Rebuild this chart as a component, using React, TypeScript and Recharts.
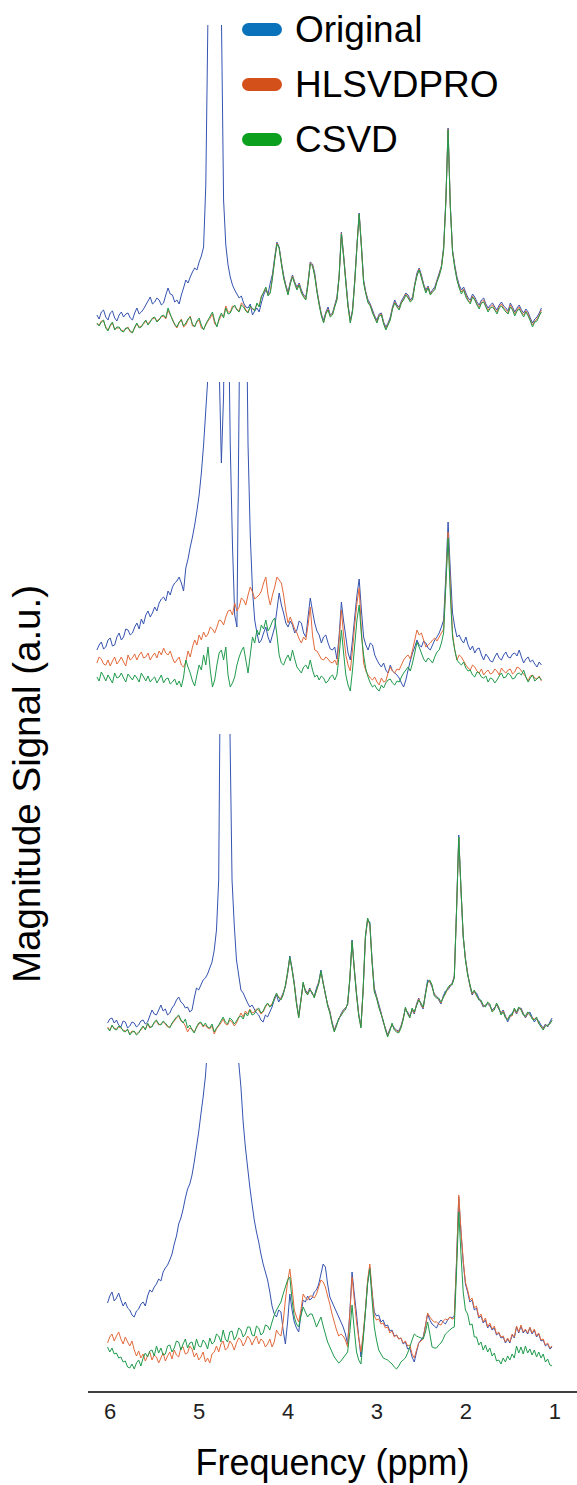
import { LineChart, Line, XAxis, YAxis, Legend } from "recharts";

const FONT = "Arial, 'Liberation Sans', sans-serif";

// sampling grid (ppm); panels 3-4 sit slightly to the right of panels 1-2
const PPM_START_A = 6.15;
const PPM_START_B = 6.03;
const PPM_STEP = 0.025;

const X_TICKS = [6, 5, 4, 3, 2, 1];

// panel 1
const p1Original = [
  25, 21, 28, 30, 23, 20, 27, 29, 22, 19, 25, 28, 23, 26, 27, 22, 20, 27, 32, 26,
  28, 31, 35, 39, 43, 36, 38, 42, 40, 35, 37, 45, 52, 46, 45, 38, 40, 36, 45, 52,
  60, 57, 63, 68, 72, 70, 78, 84, 93, 155, 330, 600, 900, 950, 700, 500, 330, 140, 95, 75,
  63, 55, 50, 46, 42, 44, 37, 33, 32, 36, 25, 29, 32, 28, 37, 45, 50, 46, 57, 66,
  83, 98, 93, 78, 65, 55, 48, 58, 65, 58, 53, 57, 50, 45, 43, 58, 78, 76, 67, 50,
  37, 26, 20, 28, 33, 25, 27, 35, 43, 65, 108, 85, 60, 35, 20, 30, 60, 95, 127, 95,
  60, 48, 40, 36, 30, 24, 20, 26, 27, 18, 13, 17, 23, 33, 40, 35, 33, 39, 43, 47,
  45, 40, 43, 56, 67, 72, 65, 56, 50, 54, 47, 50, 53, 60, 67, 74, 93, 140, 212, 135,
  90, 75, 63, 55, 50, 53, 47, 42, 40, 46, 43, 38, 35, 40, 42, 36, 32, 35, 37, 33,
  30, 35, 38, 34, 32, 29, 37, 33, 28, 32, 35, 30, 27, 31, 28, 22, 17, 21, 23, 27,
  32,
];
const p1Hlsvd = [
  16, 15, 19, 19, 13, 10, 14, 17, 11, 12, 12, 10, 9, 11, 13, 8, 8, 12, 16, 13,
  14, 16, 19, 16, 19, 21, 22, 19, 21, 23, 24, 21, 30, 25, 21, 15, 12, 17, 21, 13,
  15, 20, 24, 14, 14, 18, 20, 12, 11, 15, 19, 22, 26, 16, 14, 20, 25, 24, 34, 28,
  28, 34, 33, 31, 29, 37, 35, 30, 28, 33, 31, 30, 36, 34, 44, 47, 52, 45, 48, 63,
  81, 97, 92, 77, 63, 54, 46, 57, 64, 57, 51, 56, 48, 44, 41, 57, 77, 75, 65, 49,
  36, 25, 18, 27, 31, 24, 26, 34, 41, 64, 107, 84, 58, 34, 18, 29, 58, 94, 126, 94,
  58, 47, 38, 35, 28, 23, 18, 25, 26, 17, 11, 16, 21, 32, 38, 34, 31, 38, 41, 46,
  43, 39, 41, 55, 65, 71, 63, 55, 48, 53, 46, 49, 51, 59, 65, 73, 91, 139, 211, 134,
  89, 73, 61, 53, 48, 51, 45, 40, 38, 44, 41, 36, 33, 38, 40, 34, 30, 33, 35, 31,
  28, 33, 36, 32, 30, 27, 35, 31, 26, 30, 33, 28, 25, 29, 26, 20, 15, 19, 21, 25,
  30,
];
const p1Csvd = [
  17, 14, 18, 20, 12, 9, 15, 18, 10, 13, 13, 9, 8, 12, 12, 9, 7, 13, 17, 12,
  13, 17, 20, 15, 18, 22, 23, 18, 20, 24, 25, 22, 32, 26, 20, 16, 13, 18, 20, 14,
  17, 21, 23, 16, 13, 19, 22, 15, 10, 16, 20, 24, 28, 19, 13, 22, 27, 22, 32, 26,
  27, 32, 35, 30, 28, 35, 33, 29, 27, 34, 32, 29, 37, 33, 43, 48, 53, 44, 47, 62,
  80, 96, 92, 76, 62, 53, 45, 56, 63, 56, 50, 55, 47, 43, 40, 56, 76, 74, 64, 48,
  35, 24, 17, 26, 30, 23, 25, 33, 40, 63, 106, 83, 57, 33, 17, 28, 57, 93, 126, 93,
  57, 46, 37, 34, 27, 22, 17, 24, 25, 16, 10, 15, 20, 31, 37, 33, 30, 37, 40, 45,
  42, 38, 40, 54, 64, 70, 62, 54, 47, 52, 45, 48, 50, 58, 64, 72, 90, 138, 210, 133,
  88, 72, 60, 52, 46, 50, 43, 39, 36, 43, 40, 35, 31, 37, 38, 33, 28, 32, 33, 30,
  26, 32, 34, 31, 28, 26, 33, 30, 24, 29, 31, 27, 23, 28, 24, 19, 13, 18, 19, 24,
  28,
];

// panel 2
const p2Original = [
  45, 50, 53, 46, 48, 55, 57, 49, 50, 58, 62, 55, 58, 66, 65, 60, 62, 68, 72, 66,
  76, 71, 80, 84, 78, 82, 88, 84, 92, 96, 98, 94, 104, 100, 108, 112, 114, 118, 112, 104,
  127, 136, 148, 158, 170, 184, 200, 222, 250, 285, 320, 600, 700, 650, 500, 330, 232, 300, 520, 420,
  250, 150, 80, 68, 300, 600, 700, 450, 250, 160, 105, 75, 62, 52, 55, 62, 68, 58, 52, 60,
  68, 85, 102, 90, 82, 72, 68, 74, 70, 62, 65, 74, 72, 62, 58, 78, 97, 84, 72, 64,
  60, 52, 58, 60, 52, 46, 45, 48, 36, 60, 93, 74, 58, 42, 35, 55, 78, 100, 116, 85,
  58, 50, 45, 52, 50, 40, 35, 31, 28, 32, 25, 22, 30, 24, 22, 20, 17, 12, 8, 15,
  25, 34, 42, 48, 55, 50, 48, 54, 52, 47, 45, 50, 55, 58, 62, 68, 75, 120, 173, 125,
  82, 68, 58, 60, 55, 52, 58, 50, 45, 49, 42, 46, 47, 40, 35, 41, 38, 34, 33, 38,
  42, 37, 35, 40, 43, 38, 37, 41, 42, 39, 45, 38, 32, 36, 38, 33, 35, 31, 28, 33,
  30,
];
const p2Hlsvd = [
  32, 38, 36, 31, 30, 35, 29, 34, 38, 31, 34, 38, 33, 29, 40, 35, 37, 41, 35, 40,
  43, 37, 38, 42, 35, 39, 42, 37, 44, 40, 47, 42, 40, 44, 37, 32, 35, 38, 30, 28,
  33, 44, 38, 48, 55, 50, 60, 55, 63, 58, 61, 68, 66, 62, 68, 75, 74, 70, 78, 84,
  85, 80, 92, 84, 88, 97, 95, 90, 100, 108, 103, 96, 98, 100, 104, 112, 118, 100, 90, 100,
  108, 118, 115, 112, 100, 84, 72, 78, 72, 66, 62, 56, 52, 58, 55, 70, 88, 60, 45, 44,
  40, 36, 35, 38, 36, 33, 32, 35, 30, 55, 85, 60, 40, 30, 24, 45, 70, 92, 107, 65,
  32, 24, 20, 17, 15, 18, 13, 10, 17, 13, 14, 22, 28, 24, 22, 26, 25, 30, 35, 38,
  40, 36, 45, 55, 65, 60, 62, 55, 48, 50, 52, 55, 57, 54, 58, 62, 66, 112, 163, 110,
  62, 45, 35, 40, 38, 34, 30, 27, 25, 30, 28, 24, 22, 26, 20, 23, 25, 21, 22, 26,
  24, 20, 27, 24, 22, 25, 26, 21, 23, 28, 27, 24, 21, 18, 14, 19, 20, 17, 16, 19,
  14,
];
const p2Csvd = [
  18, 14, 23, 19, 14, 20, 16, 12, 22, 17, 18, 22, 17, 13, 21, 18, 15, 20, 17, 13,
  22, 18, 14, 19, 13, 16, 18, 12, 16, 20, 12, 16, 17, 11, 13, 16, 10, 14, 8, 18,
  35, 28, 22, 14, 9, 20, 30, 25, 40, 30, 48, 25, 8, 15, 30, 42, 45, 35, 48, 20,
  8, 12, 18, 30, 38, 44, 48, 35, 22, 40, 58, 52, 65, 60, 70, 66, 75, 64, 68, 74,
  77, 60, 40, 32, 30, 36, 40, 34, 45, 36, 28, 25, 22, 28, 30, 26, 35, 25, 18, 20,
  15, 19, 17, 12, 14, 18, 20, 15, 20, 40, 65, 42, 20, 10, 4, 25, 50, 75, 90, 60,
  40, 26, 18, 12, 8, 10, 6, 4, 10, 7, 12, 15, 16, 12, 10, 14, 13, 18, 22, 25,
  28, 24, 32, 42, 53, 48, 42, 36, 33, 37, 35, 32, 38, 43, 45, 52, 62, 110, 157, 100,
  58, 45, 35, 32, 30, 33, 27, 24, 25, 20, 18, 23, 22, 18, 17, 19, 13, 17, 16, 12,
  15, 19, 22, 17, 18, 22, 20, 16, 17, 21, 22, 20, 25, 18, 13, 17, 20, 14, 16, 18,
  15,
];

// panel 3
const p3Original = [
  17, 21, 22, 17, 20, 15, 13, 19, 18, 12, 14, 18, 17, 13, 15, 19, 20, 16, 18, 24,
  30, 26, 25, 30, 35, 29, 31, 25, 27, 32, 35, 40, 43, 38, 36, 32, 33, 28, 30, 42,
  52, 50, 55, 60, 62, 66, 72, 78, 90, 110, 160, 450, 800, 900, 700, 320, 160, 115, 80, 65,
  50, 47, 42, 37, 33, 35, 31, 27, 25, 20, 18, 25, 23, 28, 33, 40, 45, 38, 42, 47,
  53, 66, 84, 72, 57, 38, 24, 40, 56, 50, 47, 52, 46, 44, 52, 58, 70, 58, 45, 36,
  29, 18, 10, 16, 20, 26, 30, 32, 35, 60, 100, 72, 47, 26, 14, 50, 102, 120, 118, 80,
  52, 44, 36, 28, 18, 12, 5, 11, 15, 12, 10, 9, 14, 22, 31, 28, 24, 30, 26, 36,
  42, 35, 31, 47, 60, 58, 53, 46, 44, 40, 36, 44, 49, 50, 53, 57, 64, 130, 205, 150,
  103, 82, 67, 54, 45, 48, 47, 42, 38, 33, 35, 36, 34, 30, 32, 35, 31, 27, 30, 24,
  18, 23, 27, 30, 26, 31, 32, 27, 22, 26, 28, 23, 18, 21, 19, 15, 12, 16, 13, 18,
  22,
];
const p3Hlsvd = [
  13, 10, 14, 12, 11, 13, 12, 10, 9, 10, 6, 9, 8, 6, 8, 10, 13, 11, 16, 12,
  14, 17, 19, 15, 16, 18, 16, 13, 13, 16, 19, 22, 24, 19, 18, 14, 8, 12, 11, 8,
  12, 16, 17, 13, 15, 12, 11, 14, 6, 11, 14, 17, 21, 16, 15, 20, 18, 14, 17, 22,
  27, 23, 29, 26, 31, 27, 28, 31, 30, 26, 28, 33, 36, 34, 36, 41, 46, 43, 41, 46,
  54, 67, 82, 71, 56, 37, 23, 39, 57, 49, 46, 51, 47, 43, 49, 57, 68, 57, 46, 35,
  28, 17, 9, 15, 21, 25, 29, 31, 36, 61, 98, 71, 46, 25, 13, 51, 103, 121, 115, 79,
  49, 43, 34, 27, 19, 11, 4, 10, 16, 11, 9, 8, 13, 21, 32, 27, 23, 31, 27, 35,
  41, 36, 32, 46, 57, 59, 54, 45, 43, 41, 37, 43, 46, 51, 54, 56, 63, 129, 202, 151,
  104, 81, 66, 55, 46, 49, 44, 41, 39, 34, 34, 37, 35, 29, 31, 36, 32, 26, 29, 23,
  21, 24, 24, 31, 27, 32, 31, 26, 23, 27, 25, 22, 21, 22, 16, 14, 11, 15, 14, 17,
  19,
];
const p3Csvd = [
  12, 9, 15, 11, 10, 14, 13, 9, 8, 11, 5, 8, 9, 5, 7, 11, 14, 10, 17, 13,
  13, 18, 20, 16, 15, 19, 17, 14, 12, 17, 20, 23, 25, 20, 17, 21, 12, 15, 10, 7,
  13, 17, 18, 14, 17, 13, 12, 16, 8, 12, 15, 19, 23, 18, 16, 22, 20, 16, 19, 23,
  24, 21, 27, 24, 30, 25, 26, 30, 32, 27, 29, 34, 37, 33, 35, 42, 47, 42, 40, 45,
  55, 68, 83, 70, 55, 36, 22, 40, 58, 48, 45, 50, 48, 42, 50, 56, 69, 56, 47, 34,
  27, 16, 8, 14, 22, 24, 28, 30, 37, 62, 99, 70, 45, 24, 12, 52, 104, 122, 116, 78,
  48, 42, 33, 26, 20, 10, 3, 9, 17, 10, 8, 7, 12, 20, 33, 26, 22, 32, 28, 34,
  40, 37, 33, 45, 58, 60, 55, 44, 42, 42, 38, 42, 47, 52, 55, 55, 62, 128, 203, 152,
  105, 80, 65, 56, 47, 50, 45, 40, 40, 35, 33, 38, 36, 28, 30, 37, 33, 25, 28, 22,
  20, 25, 25, 32, 28, 33, 30, 25, 24, 28, 26, 21, 20, 23, 17, 13, 10, 14, 15, 16,
  20,
];

// panel 4
const p4Original = [
  69, 76, 80, 71, 74, 79, 72, 66, 70, 64, 62, 57, 55, 61, 63, 68, 70, 66, 76, 82,
  80, 85, 88, 93, 91, 100, 104, 107, 112, 118, 128, 136, 148, 154, 163, 174, 183, 188, 197, 210,
  225, 240, 258, 275, 295, 325, 360, 400, 440, 480, 520, 545, 560, 545, 520, 480, 430, 385, 340, 310,
  285, 250, 225, 205, 185, 168, 152, 140, 130, 118, 108, 100, 92, 80, 66, 58, 55, 62, 60, 42,
  28, 50, 78, 62, 50, 44, 40, 58, 72, 70, 76, 72, 74, 80, 82, 88, 98, 108, 105, 88,
  75, 70, 65, 60, 55, 50, 45, 38, 28, 60, 100, 78, 58, 35, 15, 35, 60, 90, 105, 80,
  60, 56, 57, 50, 52, 46, 47, 41, 42, 36, 37, 33, 34, 28, 30, 23, 24, 15, 10, 20,
  29, 32, 35, 46, 58, 52, 48, 46, 44, 49, 52, 50, 48, 52, 55, 54, 56, 110, 175, 140,
  110, 88, 80, 70, 72, 62, 64, 54, 56, 49, 52, 44, 47, 42, 44, 37, 39, 34, 35, 29,
  33, 29, 37, 34, 45, 39, 46, 39, 42, 38, 44, 38, 42, 35, 38, 31, 32, 26, 28, 23,
  25,
];
const p4Hlsvd = [
  29, 35, 38, 31, 36, 40, 33, 28, 35, 30, 26, 31, 22, 16, 21, 14, 18, 11, 16, 20,
  12, 17, 15, 9, 14, 19, 11, 16, 20, 13, 22, 17, 15, 24, 25, 18, 19, 26, 23, 15,
  19, 12, 15, 20, 10, 14, 9, 18, 20, 26, 20, 28, 31, 22, 24, 31, 28, 22, 29, 34,
  32, 26, 30, 36, 33, 27, 32, 36, 28, 33, 31, 25, 28, 33, 25, 30, 42, 38, 36, 50,
  72, 90, 103, 85, 62, 55, 50, 62, 78, 74, 72, 76, 76, 74, 78, 85, 92, 90, 85, 76,
  68, 58, 50, 42, 36, 38, 36, 32, 25, 58, 95, 72, 50, 34, 20, 38, 62, 92, 108, 80,
  56, 52, 53, 48, 49, 44, 45, 39, 41, 35, 37, 33, 34, 29, 31, 26, 27, 18, 14, 22,
  29, 31, 33, 46, 59, 55, 52, 50, 50, 48, 47, 51, 53, 52, 55, 53, 54, 110, 177, 142,
  112, 90, 82, 72, 74, 64, 66, 55, 58, 50, 54, 45, 49, 43, 46, 38, 40, 35, 36, 30,
  34, 30, 38, 35, 46, 40, 47, 40, 43, 39, 45, 39, 43, 36, 39, 32, 33, 27, 29, 24,
  26,
];
const p4Csvd = [
  25, 20, 24, 18, 19, 14, 15, 10, 11, 5, 4, 8, 3, 9, 12, 6, 14, 19, 15, 21,
  22, 16, 26, 19, 24, 17, 18, 26, 27, 20, 24, 31, 30, 22, 28, 33, 24, 29, 30, 22,
  33, 26, 25, 32, 29, 23, 34, 28, 30, 38, 36, 30, 42, 33, 30, 40, 41, 32, 36, 44,
  42, 35, 38, 45, 45, 37, 36, 46, 44, 37, 39, 47, 46, 42, 50, 57, 62, 66, 70, 78,
  85, 92, 95, 72, 55, 48, 45, 56, 65, 60, 55, 58, 58, 52, 45, 50, 55, 46, 38, 30,
  25, 20, 15, 12, 9, 11, 14, 17, 20, 40, 67, 42, 20, 12, 8, 32, 60, 88, 103, 72,
  45, 32, 22, 18, 14, 13, 12, 10, 8, 5, 3, 6, 10, 12, 14, 19, 25, 32, 38, 36,
  35, 34, 33, 40, 50, 38, 25, 24, 24, 27, 29, 33, 38, 40, 42, 44, 45, 100, 160, 118,
  80, 62, 58, 47, 48, 35, 35, 27, 30, 22, 27, 20, 24, 16, 19, 11, 12, 8, 14, 10,
  16, 12, 18, 14, 26, 19, 25, 18, 26, 19, 23, 17, 22, 15, 20, 14, 18, 10, 13, 7,
  6,
];

const SERIES = [
  { key: "orig", name: "Original", stroke: "#3553b0", swatch: "#0a72ba" },
  { key: "hlsvd", name: "HLSVDPRO", stroke: "#e36a3b", swatch: "#d4501a" },
  { key: "csvd", name: "CSVD", stroke: "#1f9b4c", swatch: "#0ca01f" },
];

function buildRows(start: number, orig: number[], hlsvd: number[], csvd: number[]) {
  return orig.map((v, i) => ({
    ppm: +(start - i * PPM_STEP).toFixed(3),
    orig: v,
    hlsvd: hlsvd[i],
    csvd: csvd[i],
  }));
}

const PANELS = [
  { rows: buildRows(PPM_START_A, p1Original, p1Hlsvd, p1Csvd), top: 25, plot: 315, yMin: 0, yMax: 315 },
  { rows: buildRows(PPM_START_A, p2Original, p2Hlsvd, p2Csvd), top: 382, plot: 313, yMin: 0, yMax: 313 },
  { rows: buildRows(PPM_START_B, p3Original, p3Hlsvd, p3Csvd), top: 734, plot: 306, yMin: 0, yMax: 306 },
  { rows: buildRows(PPM_START_B, p4Original, p4Hlsvd, p4Csvd), top: 1063, plot: 329, yMin: -20, yMax: 309 },
];

const renderLegend = (props: any) => {
  const items = [...(props.payload || [])].sort(
    (a: any, b: any) =>
      SERIES.findIndex((s) => s.name === a.value) - SERIES.findIndex((s) => s.name === b.value)
  );
  return (
    <div style={{ fontFamily: FONT, fontSize: 37, color: "#000" }}>
      {items.map((entry: any) => {
        const s = SERIES.find((x) => x.name === entry.value);
        return (
          <div key={entry.value} style={{ display: "flex", alignItems: "center", height: 55, lineHeight: "55px" }}>
            <span
              style={{
                display: "inline-block",
                width: 40,
                height: 13,
                borderRadius: 7,
                background: s ? s.swatch : entry.color,
                marginRight: 13,
              }}
            />
            <span>{entry.value}</span>
          </div>
        );
      })}
    </div>
  );
};

function Panel({ index }: { index: number }) {
  const p = PANELS[index];
  const first = index === 0;
  const last = index === PANELS.length - 1;
  const marginTop = first ? p.top : 0;
  const axisHeight = last ? 93 : 0;

  return (
    <div style={{ position: "absolute", left: 0, top: p.top - marginTop, width: 577 }}>
      <LineChart
        width={577}
        height={p.plot + marginTop + axisHeight}
        data={p.rows}
        margin={{ top: marginTop, right: 0, bottom: 0, left: 88 }}
        style={{ fontFamily: FONT }}
      >
        <XAxis
          dataKey="ppm"
          type="number"
          domain={[0.75, 6.25]}
          reversed
          allowDataOverflow
          hide={!last}
          ticks={X_TICKS}
          height={axisHeight}
          tickLine={false}
          tickMargin={5}
          axisLine={{ stroke: "#000", strokeWidth: 1.5 }}
          tick={{ fontSize: 22, fill: "#222", fontFamily: FONT }}
          label={{
            value: "Frequency (ppm)",
            position: "insideBottom",
            offset: 10,
            fontSize: 36,
            fill: "#000",
            fontFamily: FONT,
          }}
        />
        <YAxis hide domain={[p.yMin, p.yMax]} allowDataOverflow />
        {SERIES.map((s) => (
          <Line
            key={s.key}
            type="linear"
            dataKey={s.key}
            name={s.name}
            stroke={s.stroke}
            strokeWidth={1}
            dot={false}
            activeDot={false}
            isAnimationActive={false}
          />
        ))}
        {first && (
          <Legend
            layout="vertical"
            align="center"
            verticalAlign="middle"
            wrapperStyle={{ position: "absolute", top: 2, left: 242, width: 300 }}
            content={renderLegend}
          />
        )}
      </LineChart>
    </div>
  );
}

export default function App() {
  return (
    <div
      style={{
        position: "absolute",
        left: 0,
        top: 0,
        width: 577,
        height: 1485,
        background: "#fff",
        overflow: "hidden",
      }}
    >
      {PANELS.map((_, i) => (
        <Panel key={i} index={i} />
      ))}
      <svg width={577} height={1485} style={{ position: "absolute", left: 0, top: 0, pointerEvents: "none" }}>
        <text
          x={39.5}
          y={784}
          transform="rotate(-90 39.5 784)"
          textAnchor="middle"
          fontSize={38.5}
          fontFamily={FONT}
          fill="#000"
        >
          Magnitude Signal (a.u.)
        </text>
      </svg>
    </div>
  );
}
